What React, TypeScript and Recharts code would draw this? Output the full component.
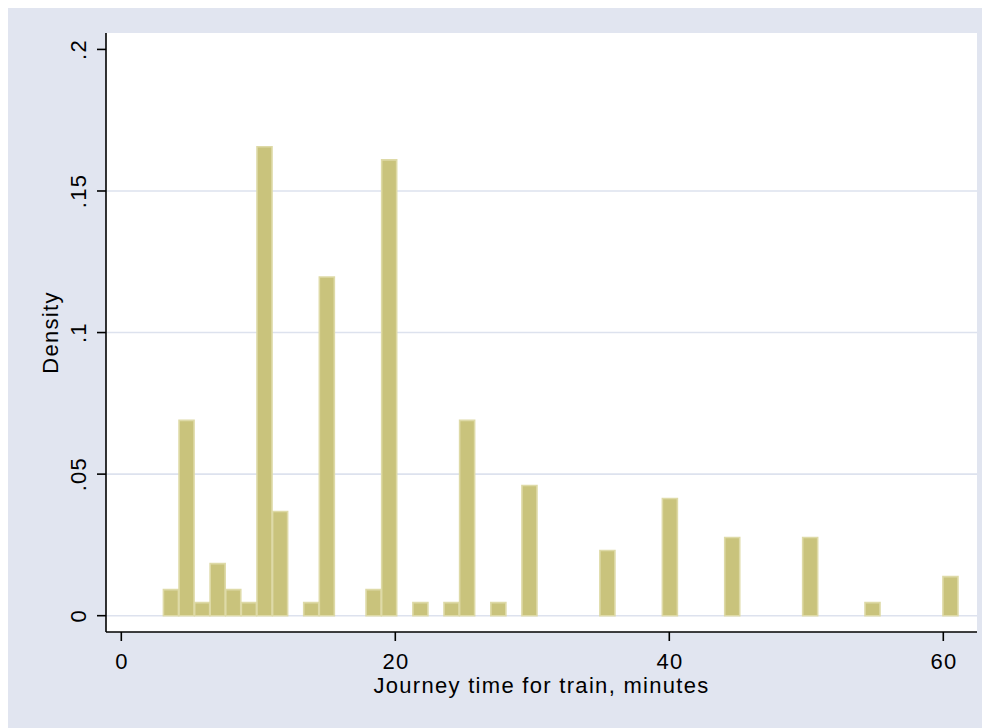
import React from 'react';
import { BarChart, Bar, XAxis, YAxis, CartesianGrid } from 'recharts';

// Histogram bins (bin centres, minutes) and densities
const binCenters = [
  3.64, 4.78, 5.92, 7.05, 8.19, 9.33, 10.47, 11.61, 13.88, 15.02, 18.43, 19.57,
  21.85, 24.12, 25.26, 27.54, 29.81, 35.5, 40.06, 44.61, 50.3, 54.85, 60.54,
];
const densities = [
  0.0092, 0.069, 0.0046, 0.0184, 0.0092, 0.0046, 0.1656, 0.0368, 0.0046, 0.1196, 0.0092, 0.161,
  0.0046, 0.0046, 0.069, 0.0046, 0.046, 0.023, 0.0414, 0.0276, 0.0276, 0.0046, 0.0138,
];

const xTicks = [0, 20, 40, 60];
const yTicks = [0, 0.05, 0.1, 0.15, 0.2];
const yTickLabels = ['0', '.05', '.1', '.15', '.2'];
const gridValues = [0, 0.05, 0.1, 0.15];
const xTitle = 'Journey time for train, minutes';
const yTitle = 'Density';

const data = binCenters.map((c, i) => ({ center: c, density: densities[i] }));

const FONT = '"Liberation Sans", Arial, Helvetica, sans-serif';
const FS = 22;
const LS = 1.3;

const W = 983;
const H = 722;
const PLOT_LEFT = 99;
const PLOT_TOP = 27;
const PLOT_W = 871;
const PLOT_H = 599;

const XTick = (props: any) => {
  const { x, payload } = props;
  return (
    <text x={x + LS / 2} y={PLOT_TOP + PLOT_H + 37} textAnchor="middle" fontFamily={FONT} fontSize={FS} letterSpacing={LS} fill="#000">
      {String(payload.value)}
    </text>
  );
};

const YTick = (props: any) => {
  const { y, payload } = props;
  const idx = yTicks.findIndex((t) => Math.abs(t - payload.value) < 1e-9);
  const bx = PLOT_LEFT - 21;
  return (
    <text
      x={bx}
      y={y + LS / 2}
      transform={`rotate(-90 ${bx} ${y})`}
      textAnchor="middle"
      fontFamily={FONT}
      fontSize={FS}
      letterSpacing={LS}
      fill="#000"
    >
      {idx >= 0 ? yTickLabels[idx] : String(payload.value)}
    </text>
  );
};

const XTitle = () => (
  <text x={PLOT_LEFT + PLOT_W / 2} y={PLOT_TOP + PLOT_H + 61} textAnchor="middle" fontFamily={FONT} fontSize={FS} letterSpacing={LS} fill="#000">
    {xTitle}
  </text>
);

const YTitle = () => {
  const bx = 50.5;
  const cy = PLOT_TOP + PLOT_H / 2;
  return (
    <text x={bx} y={cy} transform={`rotate(-90 ${bx} ${cy})`} textAnchor="middle" fontFamily={FONT} fontSize={FS} letterSpacing={LS} fill="#000">
      {yTitle}
    </text>
  );
};

export default function App() {
  return (
    <div style={{ marginLeft: -1, marginTop: -2, width: W, height: H, background: '#e1e5f0' }}>
      <BarChart
        width={W}
        height={H}
        data={data}
        margin={{ top: PLOT_TOP, right: W - PLOT_LEFT - PLOT_W, left: PLOT_LEFT - 60, bottom: H - PLOT_TOP - PLOT_H - 60 }}
        barCategoryGap={0}
        barGap={0}
      >
        <CartesianGrid
          fill="#ffffff"
          vertical={false}
          horizontalValues={gridValues}
          stroke="#dde2ee"
          strokeWidth={1.6}
        />
        <XAxis
          type="number"
          dataKey="center"
          domain={[-1.117, 62.46]}
          allowDataOverflow
          ticks={xTicks}
          interval={0}
          height={60}
          tickSize={9}
          axisLine={{ stroke: '#000', strokeWidth: 1.6 }}
          tickLine={{ stroke: '#000', strokeWidth: 1.6 }}
          tick={<XTick />}
          label={{ content: () => <XTitle /> }}
        />
        <YAxis
          type="number"
          domain={[-0.00576, 0.2058]}
          allowDataOverflow
          ticks={yTicks}
          interval={0}
          width={60}
          tickSize={9}
          axisLine={{ stroke: '#000', strokeWidth: 1.6 }}
          tickLine={{ stroke: '#000', strokeWidth: 1.6 }}
          tick={<YTick />}
          label={{ content: () => <YTitle /> }}
        />
        <Bar
          dataKey="density"
          fill="#c9c37c"
          stroke="#dedaa7"
          strokeWidth={1.6}
          isAnimationActive={false}
        />
      </BarChart>
    </div>
  );
}
